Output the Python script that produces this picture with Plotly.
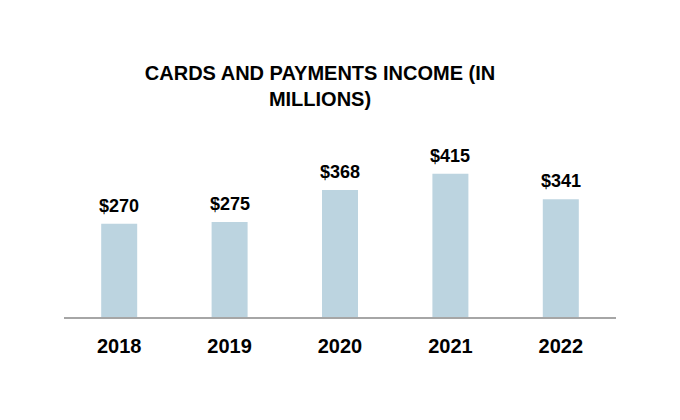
import plotly.graph_objects as go

years = ["2018", "2019", "2020", "2021", "2022"]
income = [270, 275, 368, 415, 341]
labels = ["$270", "$275", "$368", "$415", "$341"]

FONT = "Liberation Sans, Arial, sans-serif"
BAR_COLOR = "#bcd4e0"

# page body has an 8px default margin, so the figure is 8px smaller
W, H = 672, 412
OFF = 8

fig = go.Figure(
    go.Bar(
        x=years,
        y=income,
        marker=dict(color=BAR_COLOR, line=dict(width=0)),
        hoverinfo="skip",
    )
)

# value labels: category axis positions are the category indices
for i, (val, lab) in enumerate(zip(income, labels)):
    fig.add_annotation(
        x=i, y=val, xref="x", yref="y",
        text=f"<b>{lab}</b>", showarrow=False,
        yanchor="bottom", yshift=6,
        font=dict(family=FONT, size=18, color="#000000"),
    )

fig.update_layout(
    width=W,
    height=H,
    paper_bgcolor="white",
    plot_bgcolor="white",
    margin=dict(l=64 - OFF, r=W - (616 - OFF), t=140 - OFF, b=H - (316.7 - OFF), pad=0),
    bargap=0.674,
    showlegend=False,
    title=dict(
        text="<b>CARDS AND PAYMENTS INCOME (IN<br>MILLIONS)</b>",
        x=(320 - OFF) / W, xref="container", xanchor="center",
        y=1 - (80 - OFF) / H, yref="container", yanchor="top",
        font=dict(family=FONT, size=20, color="#000000"),
    ),
    xaxis=dict(
        type="category", range=[-0.5, 4.5],
        showline=True, linecolor="#a6a6a6", linewidth=2,
        showgrid=False, zeroline=False,
        ticks="outside", ticklen=10, tickcolor="rgba(0,0,0,0)",
        tickfont=dict(family=FONT, size=20, color="#000000"),
        tickmode="array", tickvals=years, ticktext=[f"<b>{y}</b>" for y in years],
    ),
    yaxis=dict(
        range=[0, 512.8], visible=False, showgrid=False, zeroline=False,
    ),
)

fig.write_html("out.html")
